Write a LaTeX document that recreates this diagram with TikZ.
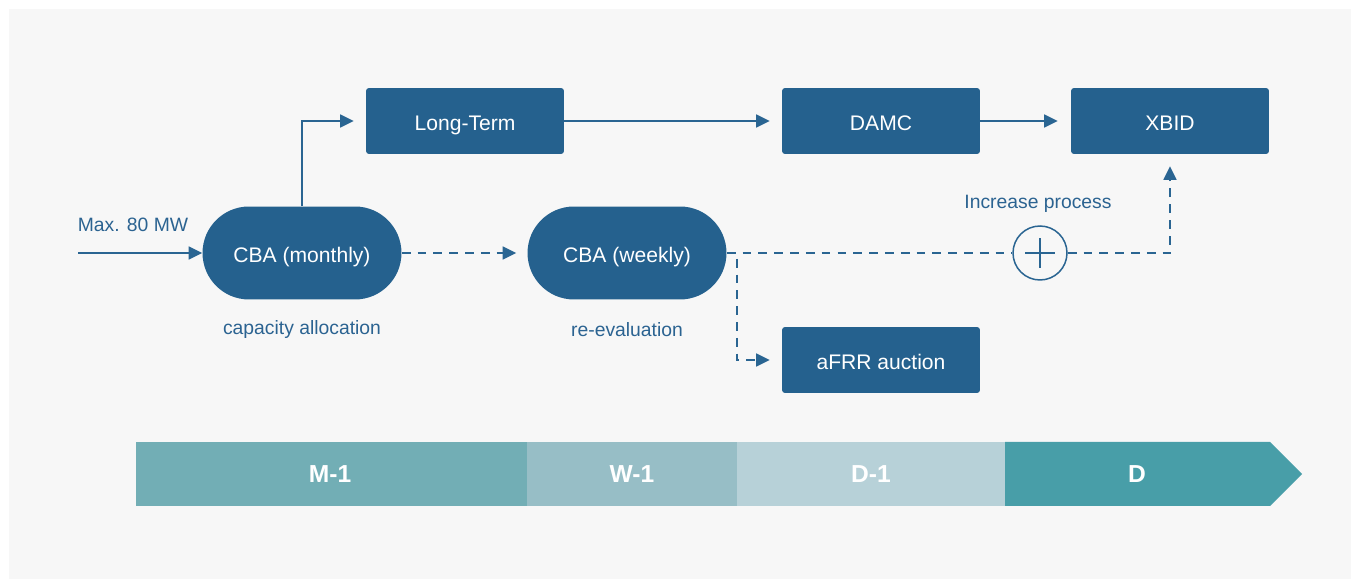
\documentclass[tikz,border=0pt]{standalone}
\usepackage{fontspec}
\setmainfont{Liberation Sans}
\usetikzlibrary{arrows.meta}
\definecolor{boxblue}{HTML}{25618E}
\definecolor{txtblue}{HTML}{2B6391}
\definecolor{linblue}{HTML}{2A6592}
\definecolor{bggray}{HTML}{F7F7F7}
\definecolor{colM}{HTML}{72AEB5}
\definecolor{colW}{HTML}{97BEC6}
\definecolor{colDm}{HTML}{B7D1D8}
\definecolor{colD}{HTML}{489EA8}
\begin{document}
\begin{tikzpicture}[x=0.02cm, y=-0.02cm, >={Triangle[length=0.27cm, width=0.26cm]},
    box/.style={rectangle, rounded corners=0.06cm, fill=boxblue, text=white, minimum width=3.96cm, minimum height=1.32cm, text height=2.05ex, text depth=0.1ex, font=\fontsize{12}{14}\selectfont},
    pill/.style={rectangle, rounded corners=0.93cm, fill=boxblue, text=white, minimum width=3.98cm, minimum height=1.86cm, text height=2.05ex, text depth=0.1ex, font=\fontsize{12}{14}\selectfont},
    lbl/.style={text=txtblue, font=\fontsize{11}{13}\selectfont},
    bar/.style={text=white, font=\bfseries\fontsize{14}{16}\selectfont},
    flow/.style={draw=linblue, line width=0.85pt},
    dashflow/.style={flow, dash pattern=on 5pt off 4pt}]
    \fill[white] (0,0) rectangle (1360,580);
    \fill[bggray] (9,9) rectangle (1351,579);
    % boxes
    \node[box] (LT) at (465,121) {Long-Term};
    \node[box] (DAMC) at (881,121) {DAMC};
    \node[box] (XBID) at (1170,121) {XBID};
    \node[box] (aFRR) at (881,360) {aFRR auction};
    \node[pill] (CBAm) at (302,253) {CBA (monthly)};
    \node[pill] (CBAw) at (627,253) {CBA (weekly)};
    \node[circle, draw=linblue, line width=0.85pt, minimum size=1.08cm] (inc) at (1040,253) {};
    \draw[flow] (inc.center) ++(-0.3cm,0) -- ++(0.6cm,0);
    \draw[flow] (inc.center) ++(0,-0.3cm) -- ++(0,0.6cm);
    % labels
    \node[lbl] (max) at (133,225) {Max. 80 MW};
    \node[lbl] (capal) at (302,330) {capacity allocation};
    \node[lbl] (reev) at (627,330) {re-evaluation};
    \node[lbl] (incp) at (1038,204) {Increase process};
    % connectors
    \coordinate (in) at (78,253);
    \draw[flow, ->] (in) -- (CBAm.west);
    \draw[flow, ->, shorten >=0.24cm] (CBAm.north) |- (LT.west);
    \draw[flow, ->, shorten >=0.24cm] (LT) -- (DAMC);
    \draw[flow, ->, shorten >=0.26cm] (DAMC) -- (XBID);
    \draw[dashflow, ->, shorten >=0.22cm] (CBAm) -- (CBAw);
    \draw[dashflow] (CBAw.east) -- (inc.west);
    \draw[dashflow, ->, shorten >=0.24cm] (inc.east) -| (XBID.south);
    \draw[dashflow, ->, shorten >=0.24cm] (CBAw.east) -- ++(0.2cm,0) |- (aFRR.west);
    % time line
    \fill[colM] (136,442) rectangle (527,506);
    \fill[colW] (527,442) rectangle (737,506);
    \fill[colDm] (737,442) rectangle (1005,506);
    \fill[colD] (1005,442) -- (1270,442) -- (1302,474) -- (1270,506) -- (1005,506) -- cycle;
    \node[bar] (tM) at (330,474) {M-1};
    \node[bar] (tW) at (632,474) {W-1};
    \node[bar] (tDm) at (871,474) {D-1};
    \node[bar] (tD) at (1137,474) {D};
\end{tikzpicture}
\end{document}
